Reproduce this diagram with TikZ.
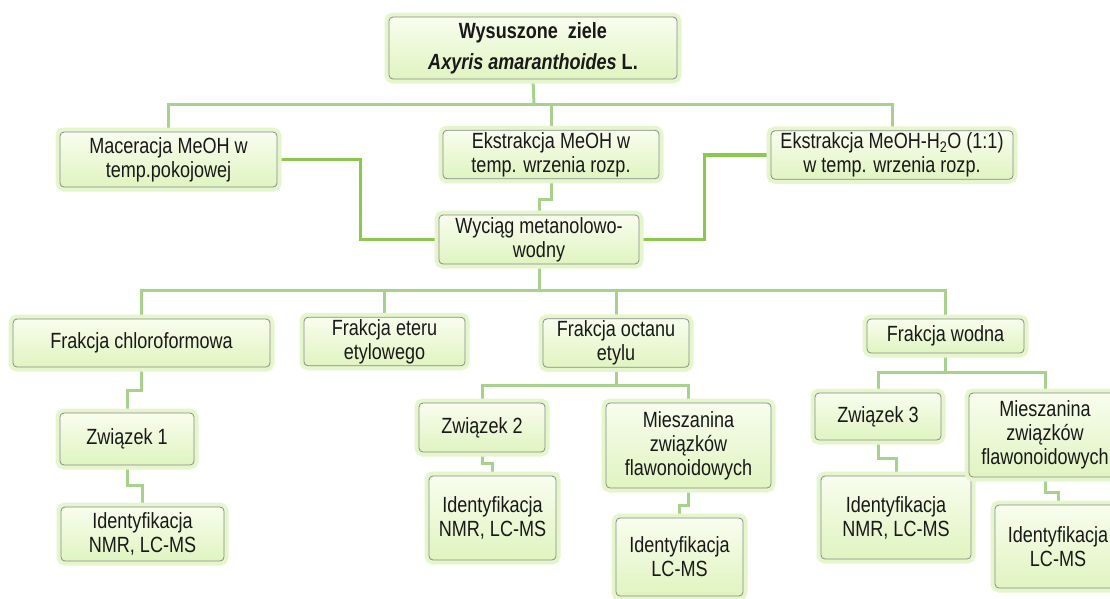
\documentclass[tikz,border=0pt]{standalone}
\usepackage{fontspec}
\setmainfont{Liberation Sans}[FakeStretch=0.82]
\usetikzlibrary{backgrounds}
\definecolor{lineg}{HTML}{A9D18E}
\definecolor{thickg}{HTML}{8CC84B}
\definecolor{boxedge}{HTML}{8A8A8A}
\definecolor{boxtop}{HTML}{F8FDEE}
\definecolor{boxbot}{HTML}{E0F4C0}
\definecolor{glowg}{HTML}{E6F6CC}

\begin{document}
\begin{tikzpicture}[x=1pt, y=-1pt,
    box/.style={draw=boxedge, line width=0.8pt, rounded corners=4pt,
      top color=boxtop, bottom color=boxbot,
      preaction={draw=glowg, line width=9pt},
      align=center, inner sep=2pt, text=black!90,
      font=\fontsize{22}{24}\selectfont},
    lnk/.style={draw=lineg, line width=3pt},
    thk/.style={draw=thickg, line width=3.5pt}]
    \useasboundingbox (0,0) rectangle (1110,598);

    \node [box, minimum width=288pt, minimum height=62pt] (top) at (533,48)
      {\bfseries Wysuszone\ \ ziele\\[7pt]\bfseries\itshape Axyris amaranthoides \upshape L.};
    \node [box, minimum width=217pt, minimum height=55pt] (mac) at (168.5,159.5) {Maceracja MeOH w\\temp.pokojowej};
    \node [box, minimum width=216pt, minimum height=45pt] (ekst) at (551,154.5) {Ekstrakcja MeOH w\\temp. wrzenia rozp.};
    \node [box, minimum width=242pt, minimum height=46pt] (ekwod) at (892,155) {Ekstrakcja MeOH-H\textsubscript{2}O (1:1)\\w temp. wrzenia rozp.};
    \node [box, minimum width=200pt, minimum height=49pt] (wyc) at (539,239.5) {Wyciąg metanolowo-\\wodny};

    \node [box, minimum width=257pt, minimum height=48pt] (chl) at (141.5,343) {Frakcja chloroformowa};
    \node [box, minimum width=161pt, minimum height=45pt] (ete) at (384.5,341.5) {Frakcja eteru\\etylowego};
    \node [box, minimum width=146pt, minimum height=48pt] (oct) at (616,343) {Frakcja octanu\\etylu};
    \node [box, minimum width=157pt, minimum height=34pt] (wod) at (945.5,336) {Frakcja wodna};

    \node [box, minimum width=134pt, minimum height=52pt] (zw1) at (127,439) {Związek 1};
    \node [box, minimum width=163pt, minimum height=54pt] (id1) at (142.5,534) {Identyfikacja\\NMR, LC-MS};
    \node [box, minimum width=126pt, minimum height=49pt] (zw2) at (482,427.5) {Związek 2};
    \node [box, minimum width=127pt, minimum height=84pt] (id2) at (492.5,518) {Identyfikacja\\NMR, LC-MS};
    \node [box, minimum width=165pt, minimum height=85pt] (mie1) at (688.5,445.5) {Mieszanina\\związków\\flawonoidowych};
    \node [box, minimum width=127pt, minimum height=78pt] (id3) at (679.5,557) {Identyfikacja\\LC-MS};
    \node [box, minimum width=126pt, minimum height=47pt] (zw3) at (878,416.5) {Związek 3};
    \node [box, minimum width=150pt, minimum height=83pt] (id4) at (896,517.5) {Identyfikacja\\NMR, LC-MS};
    \node [box, minimum width=152pt, minimum height=84pt] (mie2) at (1045,435) {Mieszanina\\związków\\flawonoidowych};
    \node [box, minimum width=126pt, minimum height=83pt] (id5) at (1058,546.5) {Identyfikacja\\LC-MS};

    \begin{scope}[on background layer]
      \coordinate (r1) at (534,104);
      \coordinate (r2) at (539,290);
      \path [lnk] (top.south) -- (r1);
      \path [lnk] (mac.north) -- (mac.north |- r1) -- (ekwod.north |- r1) -- (ekwod.north);
      \path [lnk] (ekst.north) -- (ekst.north |- r1);
      \path [lnk] (ekst.south) -- ++(0,20) -| (wyc.north);
      \path [thk] (mac.east) -- ++(83,0) |- (wyc.west);
      \path [thk] (ekwod.west) -- ++(-66,0) |- (wyc.east);

      \path [lnk] (wyc.south) -- (r2);
      \path [lnk] (chl.north) -- (chl.north |- r2) -- (wod.north |- r2) -- (wod.north);
      \path [lnk] (ete.north) -- (ete.north |- r2);
      \path [lnk] (oct.north) -- (oct.north |- r2);

      \path [lnk] (chl.south) -- ++(0,23) -| (zw1.north);
      \path [lnk] (zw1.south) -- ++(0,20) -| (id1.north);

      \path [lnk] (oct.south) -- ++(0,18) coordinate (r3);
      \path [lnk] (zw2.north) |- (r3) -| (mie1.north);
      \path [lnk] (zw2.south) -- ++(0,11) -| (id2.north);
      \path [lnk] (mie1.south) -- ++(0,17) -| (id3.north);

      \path [lnk] (wod.south) -- ++(0,19) coordinate (r4);
      \path [lnk] (zw3.north) |- (r4) -| (mie2.north);
      \path [lnk] (zw3.south) -- ++(0,18) -| (id4.north);
      \path [lnk] (mie2.south) -- ++(0,15) -| (id5.north);
    \end{scope}
\end{tikzpicture}
\end{document}
